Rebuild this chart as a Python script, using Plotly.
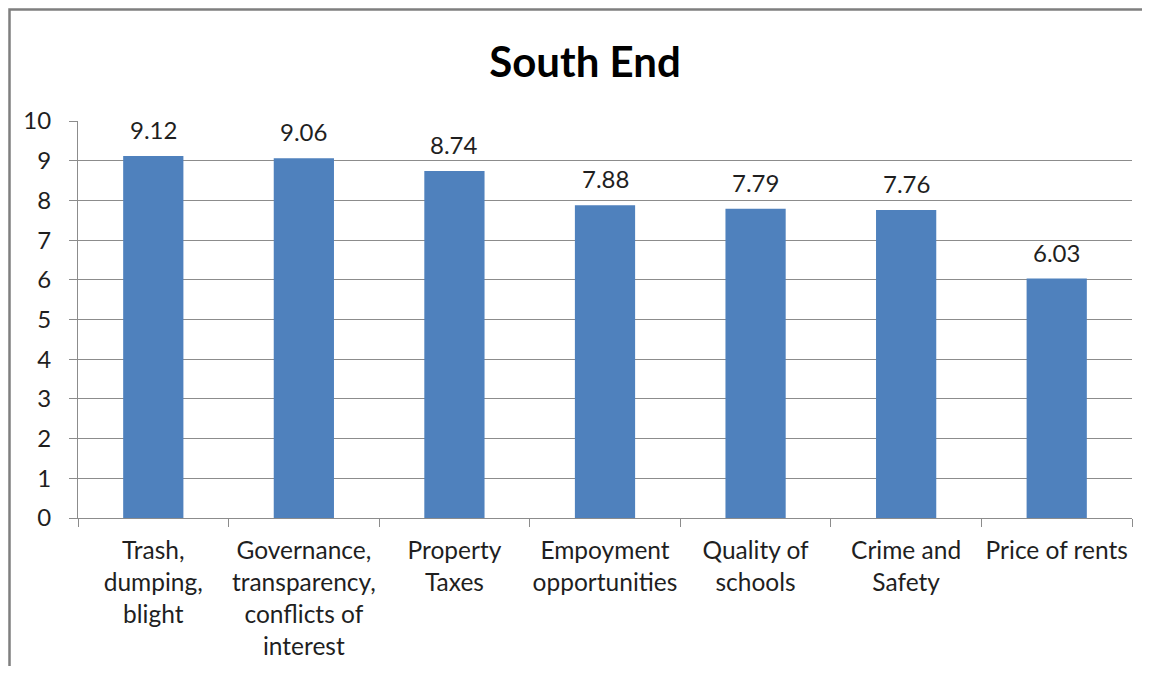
import plotly.graph_objects as go

categories = [
    "Trash,<br>dumping,<br>blight",
    "Governance,<br>transparency,<br>conflicts of<br>interest",
    "Property<br>Taxes",
    "Empoyment<br>opportunities",
    "Quality of<br>schools",
    "Crime and<br>Safety",
    "Price of rents",
]
values = [9.12, 9.06, 8.74, 7.88, 7.79, 7.76, 6.03]
value_labels = ["9.12", "9.06", "8.74", "7.88", "7.79", "7.76", "6.03"]
y_ticks = [0, 1, 2, 3, 4, 5, 6, 7, 8, 9, 10]

FONT = "Lato, Carlito, Calibri, 'Open Sans', sans-serif"
TXT = "#1f1f1f"
GRID = "#8c8c8c"

# page body has an 8px default margin; figure sized to fit 1150x674 viewport
W, H = 1134, 658
L, T = 70, 113
PLOT_R, PLOT_B = 1124, 510

fig = go.Figure()
fig.add_trace(go.Bar(
    x=categories, y=values,
    marker=dict(color="#4F81BD", line=dict(width=0)),
    hoverinfo="skip",
))

for c, v, t in zip(categories, values, value_labels):
    fig.add_annotation(
        x=c, y=v, text=t, showarrow=False,
        yanchor="bottom", yshift=10,
        font=dict(family=FONT, size=24, color=TXT),
    )

fig.update_layout(
    width=W, height=H,
    margin=dict(l=L, r=W - PLOT_R, t=T, b=H - PLOT_B, pad=0, autoexpand=False),
    paper_bgcolor="white", plot_bgcolor="white",
    bargap=0.6,
    showlegend=False,
    font=dict(family=FONT, size=24, color=TXT),
    title=dict(
        text="<b>South End</b>",
        x=577 / W, xanchor="center",
        y=1 - 54 / H, yanchor="middle",
        font=dict(family=FONT, size=42, color="#000000"),
    ),
    xaxis=dict(
        type="category",
        automargin=False,
        tickangle=0,
        showgrid=False,
        showline=True, linecolor=GRID, linewidth=1,
        ticks="outside", tickson="boundaries", ticklen=8, tickcolor=GRID,
        tickfont=dict(family=FONT, size=24.5, color=TXT),
        ticklabelstandoff=11,
    ),
    yaxis=dict(
        range=[0, 10],
        automargin=False,
        tickvals=y_ticks,
        showgrid=True, gridcolor=GRID, gridwidth=1,
        showline=True, linecolor=GRID, linewidth=1,
        ticks="outside", ticklen=8, tickcolor=GRID,
        tickfont=dict(family=FONT, size=24, color=TXT),
        ticklabelstandoff=13,
        zeroline=False,
        fixedrange=True,
    ),
)

pw = PLOT_R - L
ph = PLOT_B - T
fig.add_shape(
    type="rect", xref="paper", yref="paper",
    x0=(1.5 - L) / pw, x1=1.3,
    y0=-0.8, y1=(PLOT_B - 1.5) / ph,
    line=dict(color="#7f7f7f", width=2.5),
    fillcolor="rgba(0,0,0,0)",
    layer="below",
)

fig.write_html("out.html")
